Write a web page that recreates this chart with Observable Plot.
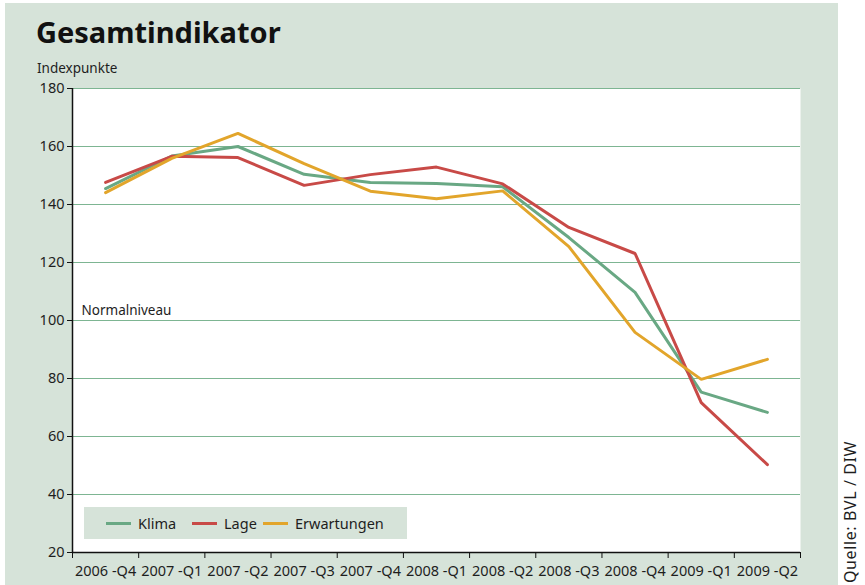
<!DOCTYPE html>
<html>
<head>
<meta charset="utf-8">
<script src="https://cdn.jsdelivr.net/npm/d3@7"></script>
<script src="https://cdn.jsdelivr.net/npm/@observablehq/plot@0.6"></script>
<style>
  html, body { margin:0; padding:0; background:#ffffff; }
  #wrap { position:relative; width:865px; height:585px; overflow:hidden; font-family:"Noto Sans", sans-serif; color:#1e1e1e; }
  #panel { position:absolute; left:5px; top:3px; width:833px; height:582px; background:#d6e3d9; }
  #title { position:absolute; left:36px; top:12px; font-size:29px; font-weight:700; letter-spacing:0px; color:#111; }
  #unit { position:absolute; left:37px; top:59px; font-size:13.5px; }
  #chart { position:absolute; left:0; top:0; }
  #legend { position:absolute; left:84px; top:507px; width:323px; height:32px; background:#d6e3d9; font-size:14.5px; }
  .item { position:absolute; top:6px; display:flex; align-items:center; height:20px; }
  .sw { display:inline-block; width:25px; height:3px; margin-right:7px; }
  #source { position:absolute; left:841px; top:583px; transform-origin:0 0; transform:rotate(-90deg); font-size:16px; letter-spacing:0.6px; white-space:nowrap; line-height:18px; height:18px; }
</style>
</head>
<body>
<div id="wrap">
  <div id="panel"></div>
  <div id="title">Gesamtindikator</div>
  <div id="unit">Indexpunkte</div>
  <div id="chart"></div>
  <div id="legend"></div>
  <div id="source">Quelle: BVL / DIW</div>
</div>
<script>
const quarters = ["2006 -Q4","2007 -Q1","2007 -Q2","2007 -Q3","2007 -Q4","2008 -Q1","2008 -Q2","2008 -Q3","2008 -Q4","2009 -Q1","2009 -Q2"];
const klima       = [145.5, 156.7, 160.0, 150.4, 147.6, 147.2, 146.1, 128.6, 109.7, 75.3, 68.3];
const lage        = [147.6, 156.6, 156.2, 146.6, 150.3, 152.9, 147.1, 132.1, 123.1, 71.7, 50.3];
const erwartungen = [144.1, 155.9, 164.5, 154.1, 144.6, 142.0, 144.7, 125.5, 95.9, 79.7, 86.6];
const seriesNames = ["Klima","Lage","Erwartungen"];
const seriesColors = ["#69a884","#c84a47","#e2a52b"];
const yTicks = [20,40,60,80,100,120,140,160,180];
const normalLabel = "Normalniveau";
const normalLevel = 100;

const seriesValues = [klima, lage, erwartungen];
const data = [];
seriesNames.forEach((name, s) => {
  seriesValues[s].forEach((v, i) => data.push({series: name, quarter: quarters[i], xi: i + 0.5, value: v}));
});

const chart = Plot.plot({
  width: 865,
  height: 585,
  marginLeft: 72,
  marginRight: 65,
  marginTop: 88,
  marginBottom: 33,
  style: {background: "transparent", fontFamily: "Noto Sans, sans-serif", fontSize: "14.5px", color: "#1e1e1e"},
  x: {type: "linear", domain: [0, quarters.length]},
  y: {domain: [20, 180]},
  color: {domain: seriesNames, range: seriesColors},
  marks: [
    Plot.frame({fill: "white", stroke: null}),
    Plot.gridY(yTicks.filter(d => d > 20), {stroke: "#7db592", strokeOpacity: 1, strokeWidth: 1.2}),
    Plot.axisY({ticks: yTicks, tickSize: 5, tickPadding: 3, label: null, stroke: "#111"}),
    Plot.axisX({ticks: d3.range(0, quarters.length + 1), tickSize: 6, tickFormat: () => "", label: null, stroke: "#111"}),
    Plot.axisX({ticks: d3.range(quarters.length).map(i => i + 0.5), tickSize: 0, tickPadding: 13, tickFormat: d => quarters[Math.floor(d)], label: null}),
    Plot.ruleX([0], {stroke: "#111", strokeWidth: 1.5}),
    Plot.ruleY([20], {stroke: "#111", strokeWidth: 1.5}),
    Plot.text([normalLabel], {x: 0, y: normalLevel, dx: 9, dy: -10, textAnchor: "start", fontSize: 13.5, fill: "#1e1e1e"}),
    Plot.line(data, {x: "xi", y: "value", stroke: "series", z: "series", strokeWidth: 3, strokeLinejoin: "miter"})
  ]
});
document.getElementById("chart").appendChild(chart);

const legend = document.getElementById("legend");
const lefts = [22, 108, 179];
seriesNames.forEach((name, i) => {
  const it = document.createElement("div");
  it.className = "item";
  it.style.left = lefts[i] + "px";
  it.innerHTML = `<span class="sw" style="background:${seriesColors[i]}"></span><span>${name}</span>`;
  legend.appendChild(it);
});
</script>
</body>
</html>
